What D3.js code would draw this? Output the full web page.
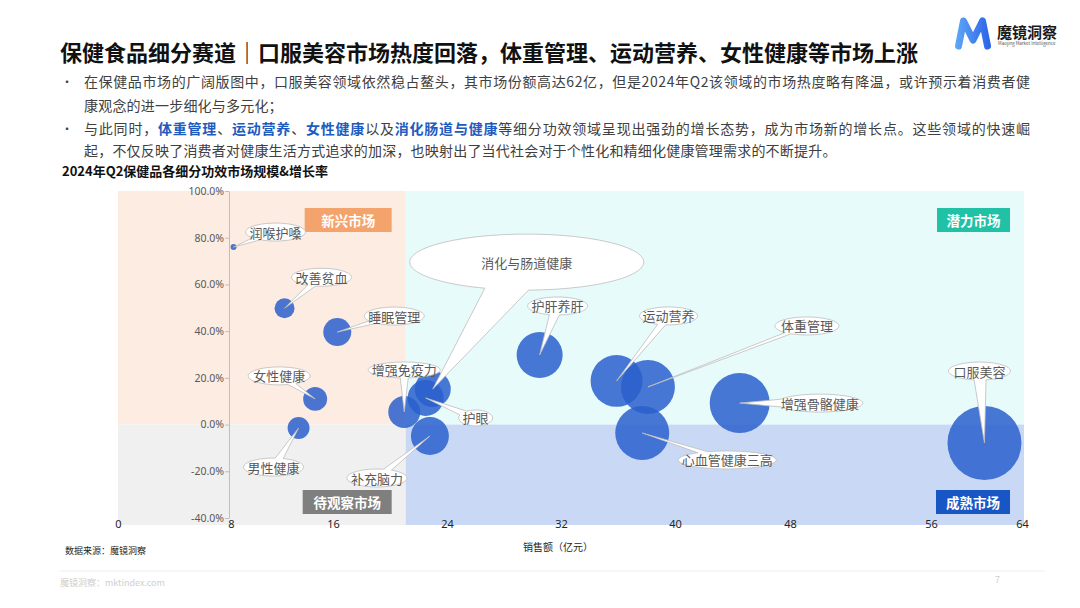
<!DOCTYPE html>
<html>
<head>
<meta charset="utf-8">
<script src="https://cdn.jsdelivr.net/npm/d3@7"></script>
<style>
  body { margin: 0; background: #fff; }
  svg { display: block; font-family: "Noto Sans CJK SC", "Noto Sans", sans-serif; }
</style>
</head>
<body>
<div id="chart"></div>
<script>
// 2024Q2 各细分功效：销售额（亿元）、增长率（%）、气泡大小
const bubbleNames = ["润喉护嗓", "改善贫血", "睡眠管理", "女性健康", "男性健康", "增强免疫力", "消化与肠道健康",
  "护眼", "补充脑力", "护肝养肝", "运动营养", "体重管理", "心血管健康三高", "增强骨骼健康", "口服美容"]
const salesValues = [8.2, 12.2, 16.3, 14.6, 13.3, 21.0, 23.0, 22.5, 22.8, 30.5, 35.9, 38.1, 37.7, 44.5, 60.7]
const growthRates = [76.0, 49.8, 39.6, 11.0, -1.5, 5.4, 15.2, 11.4, -4.9, 29.8, 18.7, 16.1, -3.6, 9.2, -7.9]
const bubbleSizes = [0.35, 3.9, 7.7, 5.6, 4.7, 10.0, 12.7, 12.7, 14.1, 20.7, 26.4, 28.5, 28.5, 35.2, 53.5]

const xTicks = [0, 8, 16, 24, 32, 40, 48, 56, 64]
const yTicks = [-40, -20, 0, 20, 40, 60, 80, 100]
const quadrantNames = ["新兴市场", "潜力市场", "待观察市场", "成熟市场"]
const splitSales = 21.1
const splitGrowth = 0

// callout layout: dx, dy from bubble, rx, ry, wedge half width
const calloutLayout = [
  [42, -15, 30, 9, 4], [37, -31, 30, 9, 4], [57, -16, 30, 9, 4], [-36, -23, 31, 9, 4],
  [-25, 39, 30, 9, 4], [0, -42, 36, 8, 4], [94, -127, 117, 28, 22], [50, 20, 17, 8, 4],
  [-53, 42, 30, 9, 4], [18, -49, 30, 9, 5], [52, -65, 29, 9, 4], [159, -61, 32, 9, 3],
  [85, 27, 49, 9, 5], [80, 0, 43, 9, 4], [-5, -72, 31, 9, 6]
]

const W = 1080, H = 608
const svg = d3.select("#chart").append("svg").attr("width", W).attr("height", H)

// ---- header ----
svg.append("text")
  .attr("x", 60).attr("y", 51).attr("dominant-baseline", "central")
  .attr("font-size", 22).attr("font-weight", 700).attr("fill", "#111")
  .text("保健食品细分赛道｜口服美容市场热度回落，体重管理、运动营养、女性健康等市场上涨")

// logo
const defs = svg.append("defs")
const lg = defs.append("linearGradient").attr("id", "logoGrad")
  .attr("gradientUnits", "userSpaceOnUse").attr("x1", 955).attr("x2", 991).attr("y1", 0).attr("y2", 0)
lg.append("stop").attr("offset", 0).attr("stop-color", "#5fa8f7")
lg.append("stop").attr("offset", 1).attr("stop-color", "#2a63e6")
svg.append("path")
  .attr("d", "M958.5,46 L963.5,21 L973,40 L982.5,21 L987.5,46")
  .attr("fill", "none").attr("stroke", "url(#logoGrad)").attr("stroke-width", 7)
  .attr("stroke-linejoin", "round").attr("stroke-linecap", "round")
svg.append("text").attr("x", 997).attr("y", 31).attr("dominant-baseline", "central")
  .attr("font-size", 15).attr("font-weight", 700).attr("fill", "#1a1a1a").text("魔镜洞察")
svg.append("text").attr("x", 998).attr("y", 43).attr("dominant-baseline", "central")
  .attr("font-size", 4.5).attr("fill", "#555").text("Maojing Market Intelligence")

// bullets
const bodyColor = "#404040", blue = "#1d5bbf"
const lines = [
  { y: 81, bullet: true, justify: 946, parts: [["在保健品市场的广阔版图中，口服美容领域依然稳占鳌头，其市场份额高达62亿，但是2024年Q2该领域的市场热度略有降温，或许预示着消费者健"]] },
  { y: 105, parts: [["康观念的进一步细化与多元化；"]] },
  { y: 128, bullet: true, justify: 946, parts: [["与此同时，"], ["体重管理", 1], ["、"], ["运动营养", 1], ["、"], ["女性健康", 1], ["以及"], ["消化肠道与健康", 1], ["等细分功效领域呈现出强劲的增长态势，成为市场新的增长点。这些领域的快速崛"]] },
  { y: 150, parts: [["起，不仅反映了消费者对健康生活方式追求的加深，也映射出了当代社会对于个性化和精细化健康管理需求的不断提升。"]] }
]
lines.forEach(l => {
  if (l.bullet) {
    svg.append("text").attr("x", 61).attr("y", l.y).attr("dominant-baseline", "central")
      .attr("font-size", 12).attr("fill", bodyColor).text("•")
  }
  const t = svg.append("text").attr("x", 84).attr("y", l.y).attr("dominant-baseline", "central")
    .attr("font-size", 14).attr("fill", bodyColor)
  l.parts.forEach(p => {
    t.append("tspan").text(p[0])
      .attr("fill", p[1] ? blue : bodyColor)
      .attr("font-weight", p[1] ? 700 : 400)
  })
  if (l.justify) {
    const len = t.node().getComputedTextLength()
    const n = l.parts.map(p => p[0]).join("").length
    t.attr("letter-spacing", (l.justify - len) / (n - 1))
  } else {
    t.attr("letter-spacing", 0.2)
  }
})

svg.append("text").attr("x", 62).attr("y", 170).attr("dominant-baseline", "central")
  .attr("font-size", 13).attr("font-weight", 700).attr("fill", "#111")
  .text("2024年Q2保健品各细分功效市场规模&增长率")

// ---- chart ----
const x = d3.scaleLinear().domain(xTicks).range([118, 231, 333, 447, 561, 675, 790, 931, 1022])
const y = d3.scaleLinear().domain([-40, 100]).range([518, 191])
const r = d3.scaleSqrt().domain([0, 55]).range([0, 37.5])

const x0 = x(0), x1 = x(64) + 2, xs = x(splitSales)
const yTop = y(100), yMid = y(splitGrowth), yBot = y(-40) + 7

const quads = [
  { name: quadrantNames[0], x: x0, y: yTop, w: xs - x0, h: yMid - yTop, bg: "#fdece2", tag: "#f5a36c", tw: 87, top: true },
  { name: quadrantNames[1], x: xs, y: yTop, w: x1 - xs, h: yMid - yTop, bg: "#e7fbfa", tag: "#21c1a6", tw: 73, top: true },
  { name: quadrantNames[2], x: x0, y: yMid, w: xs - x0, h: yBot - yMid, bg: "#f0f0f0", tag: "#7f7f7f", tw: 89, top: false },
  { name: quadrantNames[3], x: xs, y: yMid, w: x1 - xs, h: yBot - yMid, bg: "#c9d9f5", tag: "#1856c6", tw: 74, top: false }
]
const qg = svg.append("g")
qg.selectAll("rect.bg").data(quads).join("rect").attr("class", "bg")
  .attr("x", d => d.x).attr("y", d => d.y).attr("width", d => d.w).attr("height", d => d.h)
  .attr("fill", d => d.bg)
const tags = qg.selectAll("g.tag").data(quads).join("g").attr("class", "tag")
  .attr("transform", d => {
    const tx = d.x + d.w - 14 - d.tw
    const ty = d.top ? d.y + 17 : d.y + d.h - 11 - 24
    return `translate(${tx},${ty})`
  })
tags.append("rect").attr("width", d => d.tw).attr("height", 24).attr("fill", d => d.tag)
tags.append("text").attr("x", d => d.tw / 2).attr("y", 12).attr("text-anchor", "middle")
  .attr("dominant-baseline", "central").attr("font-size", 13.5).attr("font-weight", 700)
  .attr("fill", "#fff").text(d => d.name)

// y axis
const yAxis = svg.append("g").attr("transform", `translate(${x(8) - 2},0)`)
  .call(d3.axisLeft(y).tickValues(yTicks).tickFormat(d => d.toFixed(1) + "%").tickSize(4).tickSizeOuter(0))
yAxis.select(".domain").attr("stroke", "#bfbfbf")
yAxis.selectAll(".tick line").attr("stroke", "#bfbfbf")
yAxis.selectAll(".tick text").attr("fill", "#595959").attr("font-size", 10.5)
  .attr("font-family", "'Noto Sans', sans-serif").attr("x", -5)

// x axis labels
const xAxis = svg.append("g").attr("transform", `translate(0,${y(-40)})`)
  .call(d3.axisBottom(x).tickValues(xTicks).tickFormat(d3.format("d")).tickSize(0))
xAxis.select(".domain").remove()
xAxis.selectAll(".tick text").attr("fill", "#262626").attr("font-size", 11)
  .attr("font-family", "'Noto Sans', sans-serif").attr("y", 2)
svg.append("text").attr("x", 558).attr("y", 546).attr("text-anchor", "middle")
  .attr("dominant-baseline", "central").attr("font-size", 10).attr("fill", "#262626").text("销售额（亿元）")

// bubbles
const points = bubbleNames.map((n, i) => ({
  name: n, sales: salesValues[i], growth: growthRates[i], size: bubbleSizes[i], lay: calloutLayout[i]
}))
svg.append("g").selectAll("circle").data(points).join("circle")
  .attr("cx", d => x(d.sales)).attr("cy", d => y(d.growth)).attr("r", d => r(d.size))
  .attr("fill", "#2a5fcc").attr("fill-opacity", 0.85)

// callouts
function calloutPath(cx, cy, rx, ry, tx, ty, hw) {
  const t = Math.atan2((ty - cy) / ry, (tx - cx) / rx)
  const speed = Math.hypot(rx * Math.sin(t), ry * Math.cos(t))
  const dt = Math.min(hw / speed, 0.7)
  const p = a => [cx + rx * Math.cos(a), cy + ry * Math.sin(a)]
  const [ax, ay] = p(t + dt), [bx, by] = p(t - dt)
  return `M${ax},${ay} A${rx},${ry} 0 1 1 ${bx},${by} L${tx},${ty} Z`
}
const cg = svg.append("g").selectAll("g").data(points).join("g")
cg.append("path")
  .attr("d", d => {
    const tx = x(d.sales), ty = y(d.growth)
    const [dx, dy, rx, ry, hw] = d.lay
    return calloutPath(tx + dx, ty + dy, rx, ry, tx, ty, hw)
  })
  .attr("fill", "#fff").attr("stroke", "#bdbdbd").attr("stroke-width", 0.8)
cg.append("text")
  .attr("x", d => x(d.sales) + d.lay[0]).attr("y", d => y(d.growth) + d.lay[1])
  .attr("text-anchor", "middle").attr("dominant-baseline", "central")
  .attr("font-size", 13).attr("fill", "#595959").text(d => d.name)

// ---- footer ----
svg.append("text").attr("x", 65).attr("y", 550).attr("dominant-baseline", "central")
  .attr("font-size", 9).attr("fill", "#262626").text("数据来源：魔镜洞察")
svg.append("line").attr("x1", 60).attr("x2", 1045).attr("y1", 571).attr("y2", 571)
  .attr("stroke", "#eeeeee").attr("stroke-width", 1)
svg.append("text").attr("x", 60).attr("y", 582).attr("dominant-baseline", "central")
  .attr("font-size", 9).attr("fill", "#cfcfcf").text("魔镜洞察：mktindex.com")
svg.append("text").attr("x", 995).attr("y", 579).attr("dominant-baseline", "central")
  .attr("font-size", 9).attr("fill", "#cfcfcf").text("7")
</script>
</body>
</html>
